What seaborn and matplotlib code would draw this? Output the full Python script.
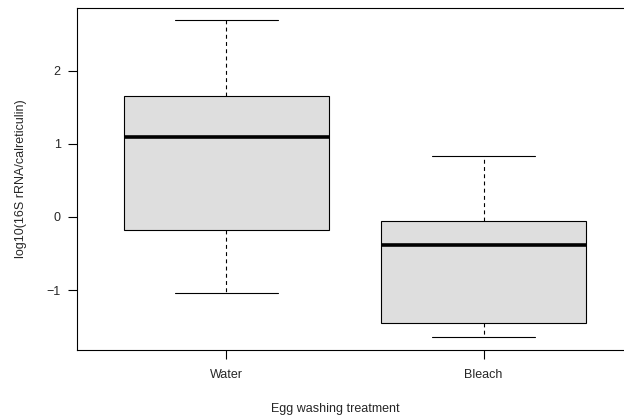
import pandas as pd
import matplotlib.pyplot as plt
import seaborn as sns

# Valores (5 pontos por grupo -> min, Q1, mediana, Q3, max)
treatments = ['Water', 'Bleach']
water_vals = [-1.045, -0.174, 1.086, 1.648, 2.69]
bleach_vals = [-1.648, -1.456, -0.384, -0.059, 0.836]
y_ticks = [-1, 0, 1, 2]

df = pd.DataFrame({
    'Treatment': ['Water'] * len(water_vals) + ['Bleach'] * len(bleach_vals),
    'Ratio': water_vals + bleach_vals,
})

sns.set_style('ticks')
plt.rcParams['font.family'] = ['Liberation Sans', 'DejaVu Sans']

fig = plt.figure(figsize=(6.24, 4.18), dpi=100)
ax = fig.add_axes([0.1239, 0.1627, 0.89, 0.8187])

sns.boxplot(
    data=df, x='Treatment', y='Ratio', order=treatments, ax=ax,
    color='#dedede', saturation=1, width=0.8,
    linecolor='black', linewidth=0.8, showfliers=False,
    medianprops=dict(linewidth=2.6, color='black'),
    whiskerprops=dict(linestyle=(0, (3.5, 3))),
)

ax.set_xlim(-0.58, 1.58)
ax.set_ylim(-1.82, 2.86)
ax.set_yticks(y_ticks)

for s in ax.spines.values():
    s.set_visible(True)
    s.set_color('black')
    s.set_linewidth(0.8)

ax.tick_params(axis='both', length=6.5, width=0.8, color='black', labelsize=9)
ax.tick_params(axis='x', pad=7.2)
ax.tick_params(axis='y', pad=5.5)

ax.set_xlabel('Egg washing treatment', fontsize=9)
ax.set_ylabel('log10(16S rRNA/calreticulin)', fontsize=9)
ax.xaxis.label.set_verticalalignment('center')
ax.yaxis.label.set_verticalalignment('center')
ax.xaxis.set_label_coords(0.4645, -0.1725)
ax.yaxis.set_label_coords(-0.1019, 0.5)

fig.savefig('out.png', dpi=100)
